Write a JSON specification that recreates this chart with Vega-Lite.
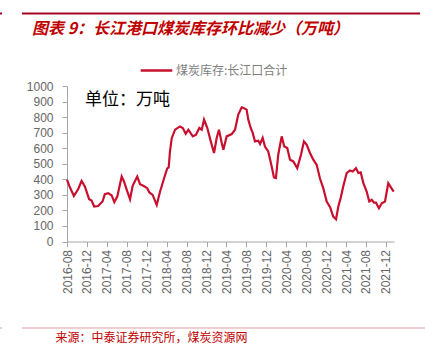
{
  "$schema": "https://vega.github.io/schema/vega-lite/v6.json",
  "width": 327,
  "height": 155.5,
  "autosize": {"type": "none"},
  "padding": {"left": 67, "top": 86, "right": 31, "bottom": 102.5},
  "background": "white",
  "title": {
    "text": "图表 9：长江港口煤炭库存环比减少（万吨）",
    "anchor": "start",
    "frame": "group",
    "dx": -35,
    "offset": 0,
    "dy": 32,
    "baseline": "middle",
    "font": "Noto Sans CJK SC",
    "fontSize": 16,
    "fontStyle": "italic",
    "fontWeight": "bold",
    "color": "#C00000"
  },
  "config": {
    "view": {"stroke": null},
    "axis": {
      "labelFont": "Liberation Sans",
      "labelFontSize": 12,
      "labelColor": "#666666",
      "domainColor": "#a6a6a6",
      "tickColor": "#a6a6a6",
      "grid": false,
      "labelOverlap": false
    }
  },
  "layer": [
    {
      "data": {"values": [{"label": "单位：万吨"}]},
      "mark": {"type": "text", "align": "left", "baseline": "middle", "font": "Noto Sans CJK SC", "fontSize": 17, "color": "#000000"},
      "encoding": {
        "x": {
          "datum": {"year": 2016, "month": 11, "date": 19},
          "type": "temporal",
          "scale": {"domain": ["2016-08-01", "2022-01-19"]},
          "axis": {
            "title": "来源：中泰证券研究所，煤炭资源网",
            "titleFont": "Noto Sans CJK SC",
            "titleFontSize": 12,
            "titleFontWeight": "normal",
            "titleColor": "#C00000",
            "titleAnchor": "start",
            "titleAlign": "left",
            "titleBaseline": "top",
            "titleX": -12,
            "titleY": 91,
            "tickCount": 40,
            "values": [
              {"year": 2016, "month": 8, "date": 1},
              {"year": 2016, "month": 12, "date": 1},
              {"year": 2017, "month": 4, "date": 1},
              {"year": 2017, "month": 8, "date": 1},
              {"year": 2017, "month": 12, "date": 1},
              {"year": 2018, "month": 4, "date": 1},
              {"year": 2018, "month": 8, "date": 1},
              {"year": 2018, "month": 12, "date": 1},
              {"year": 2019, "month": 4, "date": 1},
              {"year": 2019, "month": 8, "date": 1},
              {"year": 2019, "month": 12, "date": 1},
              {"year": 2020, "month": 4, "date": 1},
              {"year": 2020, "month": 8, "date": 1},
              {"year": 2020, "month": 12, "date": 1},
              {"year": 2021, "month": 4, "date": 1},
              {"year": 2021, "month": 8, "date": 1},
              {"year": 2021, "month": 12, "date": 1}
            ],
            "format": "%Y-%m",
            "labelAngle": -90,
            "labelPadding": 3,
            "labelOverlap": false,
            "tickSize": 5
          }
        },
        "y": {
          "datum": 913,
          "type": "quantitative",
          "scale": {"domain": [0, 1000]},
          "axis": {
            "title": null,
            "tickCount": 40,
            "format": "d",
            "values": [0, 100, 200, 300, 400, 500, 600, 700, 800, 900, 1000],
            "labelOverlap": false,
            "tickSize": 5,
            "labelPadding": 9
          }
        },
        "text": {"field": "label"}
      }
    },
    {
      "data": {"values": [
        {"date": "2016-08-01", "value": 398},
        {"date": "2016-08-15", "value": 358},
        {"date": "2016-09-12", "value": 293},
        {"date": "2016-10-08", "value": 336},
        {"date": "2016-10-29", "value": 390},
        {"date": "2016-11-18", "value": 354},
        {"date": "2016-12-14", "value": 272},
        {"date": "2016-12-29", "value": 263},
        {"date": "2017-01-14", "value": 225},
        {"date": "2017-02-07", "value": 228},
        {"date": "2017-03-06", "value": 257},
        {"date": "2017-03-20", "value": 304},
        {"date": "2017-04-10", "value": 311},
        {"date": "2017-05-01", "value": 296},
        {"date": "2017-05-17", "value": 253},
        {"date": "2017-06-04", "value": 289},
        {"date": "2017-07-01", "value": 418},
        {"date": "2017-07-15", "value": 386},
        {"date": "2017-08-01", "value": 332},
        {"date": "2017-08-21", "value": 272},
        {"date": "2017-09-06", "value": 358},
        {"date": "2017-10-04", "value": 418},
        {"date": "2017-10-21", "value": 369},
        {"date": "2017-11-10", "value": 358},
        {"date": "2017-12-04", "value": 343},
        {"date": "2017-12-17", "value": 315},
        {"date": "2018-01-06", "value": 300},
        {"date": "2018-01-31", "value": 235},
        {"date": "2018-02-20", "value": 320},
        {"date": "2018-03-18", "value": 410},
        {"date": "2018-04-05", "value": 470},
        {"date": "2018-04-14", "value": 476},
        {"date": "2018-04-22", "value": 579},
        {"date": "2018-05-03", "value": 666},
        {"date": "2018-05-23", "value": 719},
        {"date": "2018-06-22", "value": 740},
        {"date": "2018-07-09", "value": 730},
        {"date": "2018-07-27", "value": 693},
        {"date": "2018-08-12", "value": 719},
        {"date": "2018-09-08", "value": 676},
        {"date": "2018-09-28", "value": 687},
        {"date": "2018-10-18", "value": 730},
        {"date": "2018-11-02", "value": 719},
        {"date": "2018-11-16", "value": 784},
        {"date": "2018-12-06", "value": 730},
        {"date": "2018-12-27", "value": 644},
        {"date": "2019-01-16", "value": 569},
        {"date": "2019-02-01", "value": 666},
        {"date": "2019-02-15", "value": 719},
        {"date": "2019-03-04", "value": 634},
        {"date": "2019-03-14", "value": 590},
        {"date": "2019-04-03", "value": 676},
        {"date": "2019-05-04", "value": 691},
        {"date": "2019-05-24", "value": 719},
        {"date": "2019-06-13", "value": 816},
        {"date": "2019-07-04", "value": 863},
        {"date": "2019-07-12", "value": 860},
        {"date": "2019-08-03", "value": 848},
        {"date": "2019-08-13", "value": 784},
        {"date": "2019-08-28", "value": 730},
        {"date": "2019-09-09", "value": 698},
        {"date": "2019-09-23", "value": 644},
        {"date": "2019-10-13", "value": 648},
        {"date": "2019-10-24", "value": 627},
        {"date": "2019-11-09", "value": 666},
        {"date": "2019-11-23", "value": 611},
        {"date": "2019-12-13", "value": 579},
        {"date": "2020-01-03", "value": 482},
        {"date": "2020-01-17", "value": 412},
        {"date": "2020-01-29", "value": 408},
        {"date": "2020-02-12", "value": 558},
        {"date": "2020-03-04", "value": 676},
        {"date": "2020-03-20", "value": 611},
        {"date": "2020-04-07", "value": 601},
        {"date": "2020-04-24", "value": 526},
        {"date": "2020-05-14", "value": 515},
        {"date": "2020-06-07", "value": 472},
        {"date": "2020-06-30", "value": 558},
        {"date": "2020-07-18", "value": 644},
        {"date": "2020-08-04", "value": 622},
        {"date": "2020-08-24", "value": 569},
        {"date": "2020-09-13", "value": 526},
        {"date": "2020-10-04", "value": 493},
        {"date": "2020-10-24", "value": 405},
        {"date": "2020-11-13", "value": 343},
        {"date": "2020-12-04", "value": 257},
        {"date": "2020-12-24", "value": 222},
        {"date": "2021-01-13", "value": 160},
        {"date": "2021-01-30", "value": 143},
        {"date": "2021-02-13", "value": 225},
        {"date": "2021-02-27", "value": 279},
        {"date": "2021-03-15", "value": 354},
        {"date": "2021-04-05", "value": 440},
        {"date": "2021-04-25", "value": 457},
        {"date": "2021-05-12", "value": 450},
        {"date": "2021-06-01", "value": 472},
        {"date": "2021-06-15", "value": 440},
        {"date": "2021-06-30", "value": 444},
        {"date": "2021-07-16", "value": 375},
        {"date": "2021-08-05", "value": 321},
        {"date": "2021-08-21", "value": 257},
        {"date": "2021-09-05", "value": 268},
        {"date": "2021-09-19", "value": 250},
        {"date": "2021-10-01", "value": 250},
        {"date": "2021-10-19", "value": 214},
        {"date": "2021-11-05", "value": 246},
        {"date": "2021-11-25", "value": 257},
        {"date": "2021-12-15", "value": 375},
        {"date": "2021-12-30", "value": 350},
        {"date": "2022-01-17", "value": 321}
      ]},
      "mark": {"type": "line", "strokeWidth": 2.2, "interpolate": "linear"},
      "encoding": {
        "x": {"field": "date", "type": "temporal"},
        "y": {"field": "value", "type": "quantitative"},
        "color": {
          "datum": "煤炭库存:长江口合计",
          "type": "nominal",
          "scale": {"range": ["#C8102E"]},
          "legend": {
            "title": null,
            "orient": "none",
            "legendX": 72,
            "legendY": -33,
            "symbolType": "stroke",
            "symbolSize": 1000,
            "symbolStrokeWidth": 2.5,
            "labelFont": "Noto Sans CJK SC",
            "labelFontSize": 12,
            "labelColor": "#808080",
            "labelOffset": 2
          }
        }
      }
    },
    {
      "data": {"values": [{"line": "top"}]},
      "mark": {"type": "rule", "color": "#A50021", "strokeWidth": 2},
      "encoding": {
        "x": {"value": -45},
        "x2": {"value": 353},
        "y": {"value": -72.5}
      }
    },
    {
      "data": {"values": [{"line": "top-stub"}]},
      "mark": {"type": "rule", "color": "#A50021", "strokeWidth": 2},
      "encoding": {
        "x": {"value": -67},
        "x2": {"value": -65},
        "y": {"value": -72.5}
      }
    },
    {
      "data": {"values": [{"line": "bottom"}]},
      "mark": {"type": "rule", "color": "#E8A0A8", "strokeWidth": 1},
      "encoding": {
        "x": {"value": -45},
        "x2": {"value": 358},
        "y": {"value": 242}
      }
    },
    {
      "data": {"values": [{"line": "bottom-stub"}]},
      "mark": {"type": "rule", "color": "#E8A0A8", "strokeWidth": 1},
      "encoding": {
        "x": {"value": -67},
        "x2": {"value": -65},
        "y": {"value": 242}
      }
    }
  ]
}
